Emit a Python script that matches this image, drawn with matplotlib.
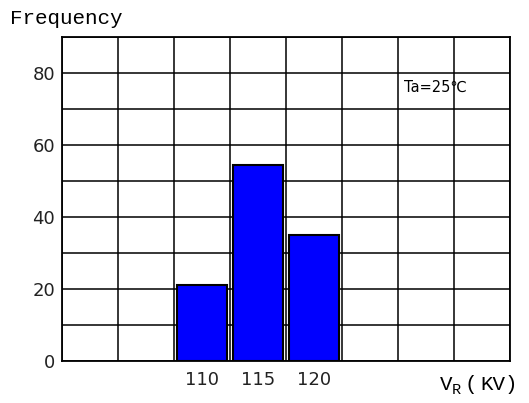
import matplotlib
matplotlib.use('Agg')
import matplotlib.pyplot as plt
import numpy as np

# values
labels = ['110', '115', '120']
freq = [21, 54.5, 35]
slots = [2.5, 3.5, 4.5]   # bars sit in grid columns 3-5

fig = plt.figure(figsize=(5.29, 4.03), dpi=100)
ax = fig.add_axes([0.1172, 0.1042, 0.8469, 0.804])

ax.bar(slots, freq, width=0.9, color='#0000ff', edgecolor='black', linewidth=1.5, zorder=3)

ax.set_xlim(0, 8)
ax.set_ylim(0, 90)
ax.set_xticks(np.arange(0, 9), minor=True)
ax.set_yticks(np.arange(0, 91, 10), minor=True)
ax.set_xticks(slots)
ax.set_xticklabels(labels)
ax.set_yticks([0, 20, 40, 60, 80])
ax.grid(axis='x', which='minor', color='black', linewidth=1.1, zorder=0)
ax.grid(axis='y', which='both', color='black', linewidth=1.1, zorder=0)
ax.tick_params(which='both', length=0, labelsize=13, colors='#222222')
ax.tick_params(axis='y', pad=5)
ax.tick_params(axis='x', pad=7)
for s in ax.spines.values():
    s.set_linewidth(1.3)
    s.set_zorder(4)

mono = 'Liberation Mono'
fig.text(10 / 529, 1 - 18 / 403, 'Frequency', family=mono, fontsize=15, va='center')
ax.text(6.1, 76, 'Ta=25℃', family=['DejaVu Sans'], fontsize=10.5, va='center')

# axis title V_R (KV), bracket set apart as in the reference
fig.text(440 / 529, 1 - 384 / 403, 'V', family=mono, fontsize=15, va='center')
fig.text(452 / 529, 1 - 390 / 403, 'R', family=mono, fontsize=11, va='center')
fig.text(464 / 529, 1 - 384 / 403, '(', family=mono, fontsize=15, va='center')
fig.text(480 / 529, 1 - 384 / 403, 'KV)', family=mono, fontsize=15, va='center')

fig.savefig('out.png', dpi=100)
